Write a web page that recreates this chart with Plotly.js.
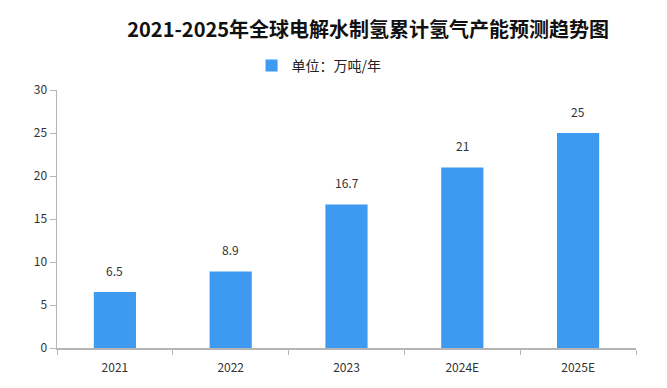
<!DOCTYPE html>
<html><head><meta charset="utf-8">
<script src="https://cdn.plot.ly/plotly-3.0.1.min.js"></script>
<style>html,body{margin:0;padding:0;background:#fff}</style>
</head><body><div id="chart" style="width:667px;height:388px"></div>
<script>
const categories = ["2021", "2022", "2023", "2024E", "2025E"];
const capacity = [6.5, 8.9, 16.7, 21, 25];
const labels = ["6.5", "8.9", "16.7", "21", "25"];
const seriesName = "单位：万吨/年";
const titleText = "2021-2025年全球电解水制氢累计氢气产能预测趋势图";

const fontFam = "'Noto Sans CJK SC', 'DejaVu Sans', sans-serif";
const trace = {
  type: "bar", x: categories, y: capacity, name: seriesName,
  marker: {color: "#3d9af0"}, showlegend: true, hoverinfo: "none"
};
const annotations = categories.map((c, i) => ({
  x: i, y: capacity[i], text: labels[i], showarrow: false,
  xref: "x", yref: "y", yanchor: "bottom", yshift: 11,
  font: {family: fontFam, size: 12, color: "#333"}
}));
const layout = {
  width: 667, height: 388,
  margin: {l: 57, r: 31, t: 90, b: 40},
  paper_bgcolor: "#fff", plot_bgcolor: "#fff",
  title: {text: "<b>" + titleText + "</b>", x: 0.552, xanchor: "center", y: 0.922, yanchor: "middle",
          font: {family: fontFam, size: 20, color: "#111"}},
  showlegend: true,
  legend: {orientation: "h", x: 0.336, xanchor: "left", y: 1.093, yanchor: "middle",
           font: {family: fontFam, size: 14, color: "#222"}, bgcolor: "rgba(0,0,0,0)"},
  bargap: 0.636,
  xaxis: {type: "category", range: [-0.5, categories.length - 0.5], showline: true, linecolor: "#b5b5b5", linewidth: 1.5,
          ticks: "outside", ticklen: 5, tickcolor: "#b5b5b5", tickson: "boundaries", ticklabelstandoff: 8,
          showgrid: false, tickfont: {family: fontFam, size: 12, color: "#333"}, fixedrange: true},
  yaxis: {range: [0, 30], dtick: 5, showline: true, linecolor: "#b5b5b5", linewidth: 1.5,
          ticks: "outside", ticklen: 6, tickcolor: "#b5b5b5", showgrid: false, zeroline: false,
          tickfont: {family: fontFam, size: 12, color: "#333"}, fixedrange: true},
  annotations: annotations
};
Plotly.newPlot("chart", [trace], layout, {displayModeBar: false, staticPlot: true});
</script></body></html>
